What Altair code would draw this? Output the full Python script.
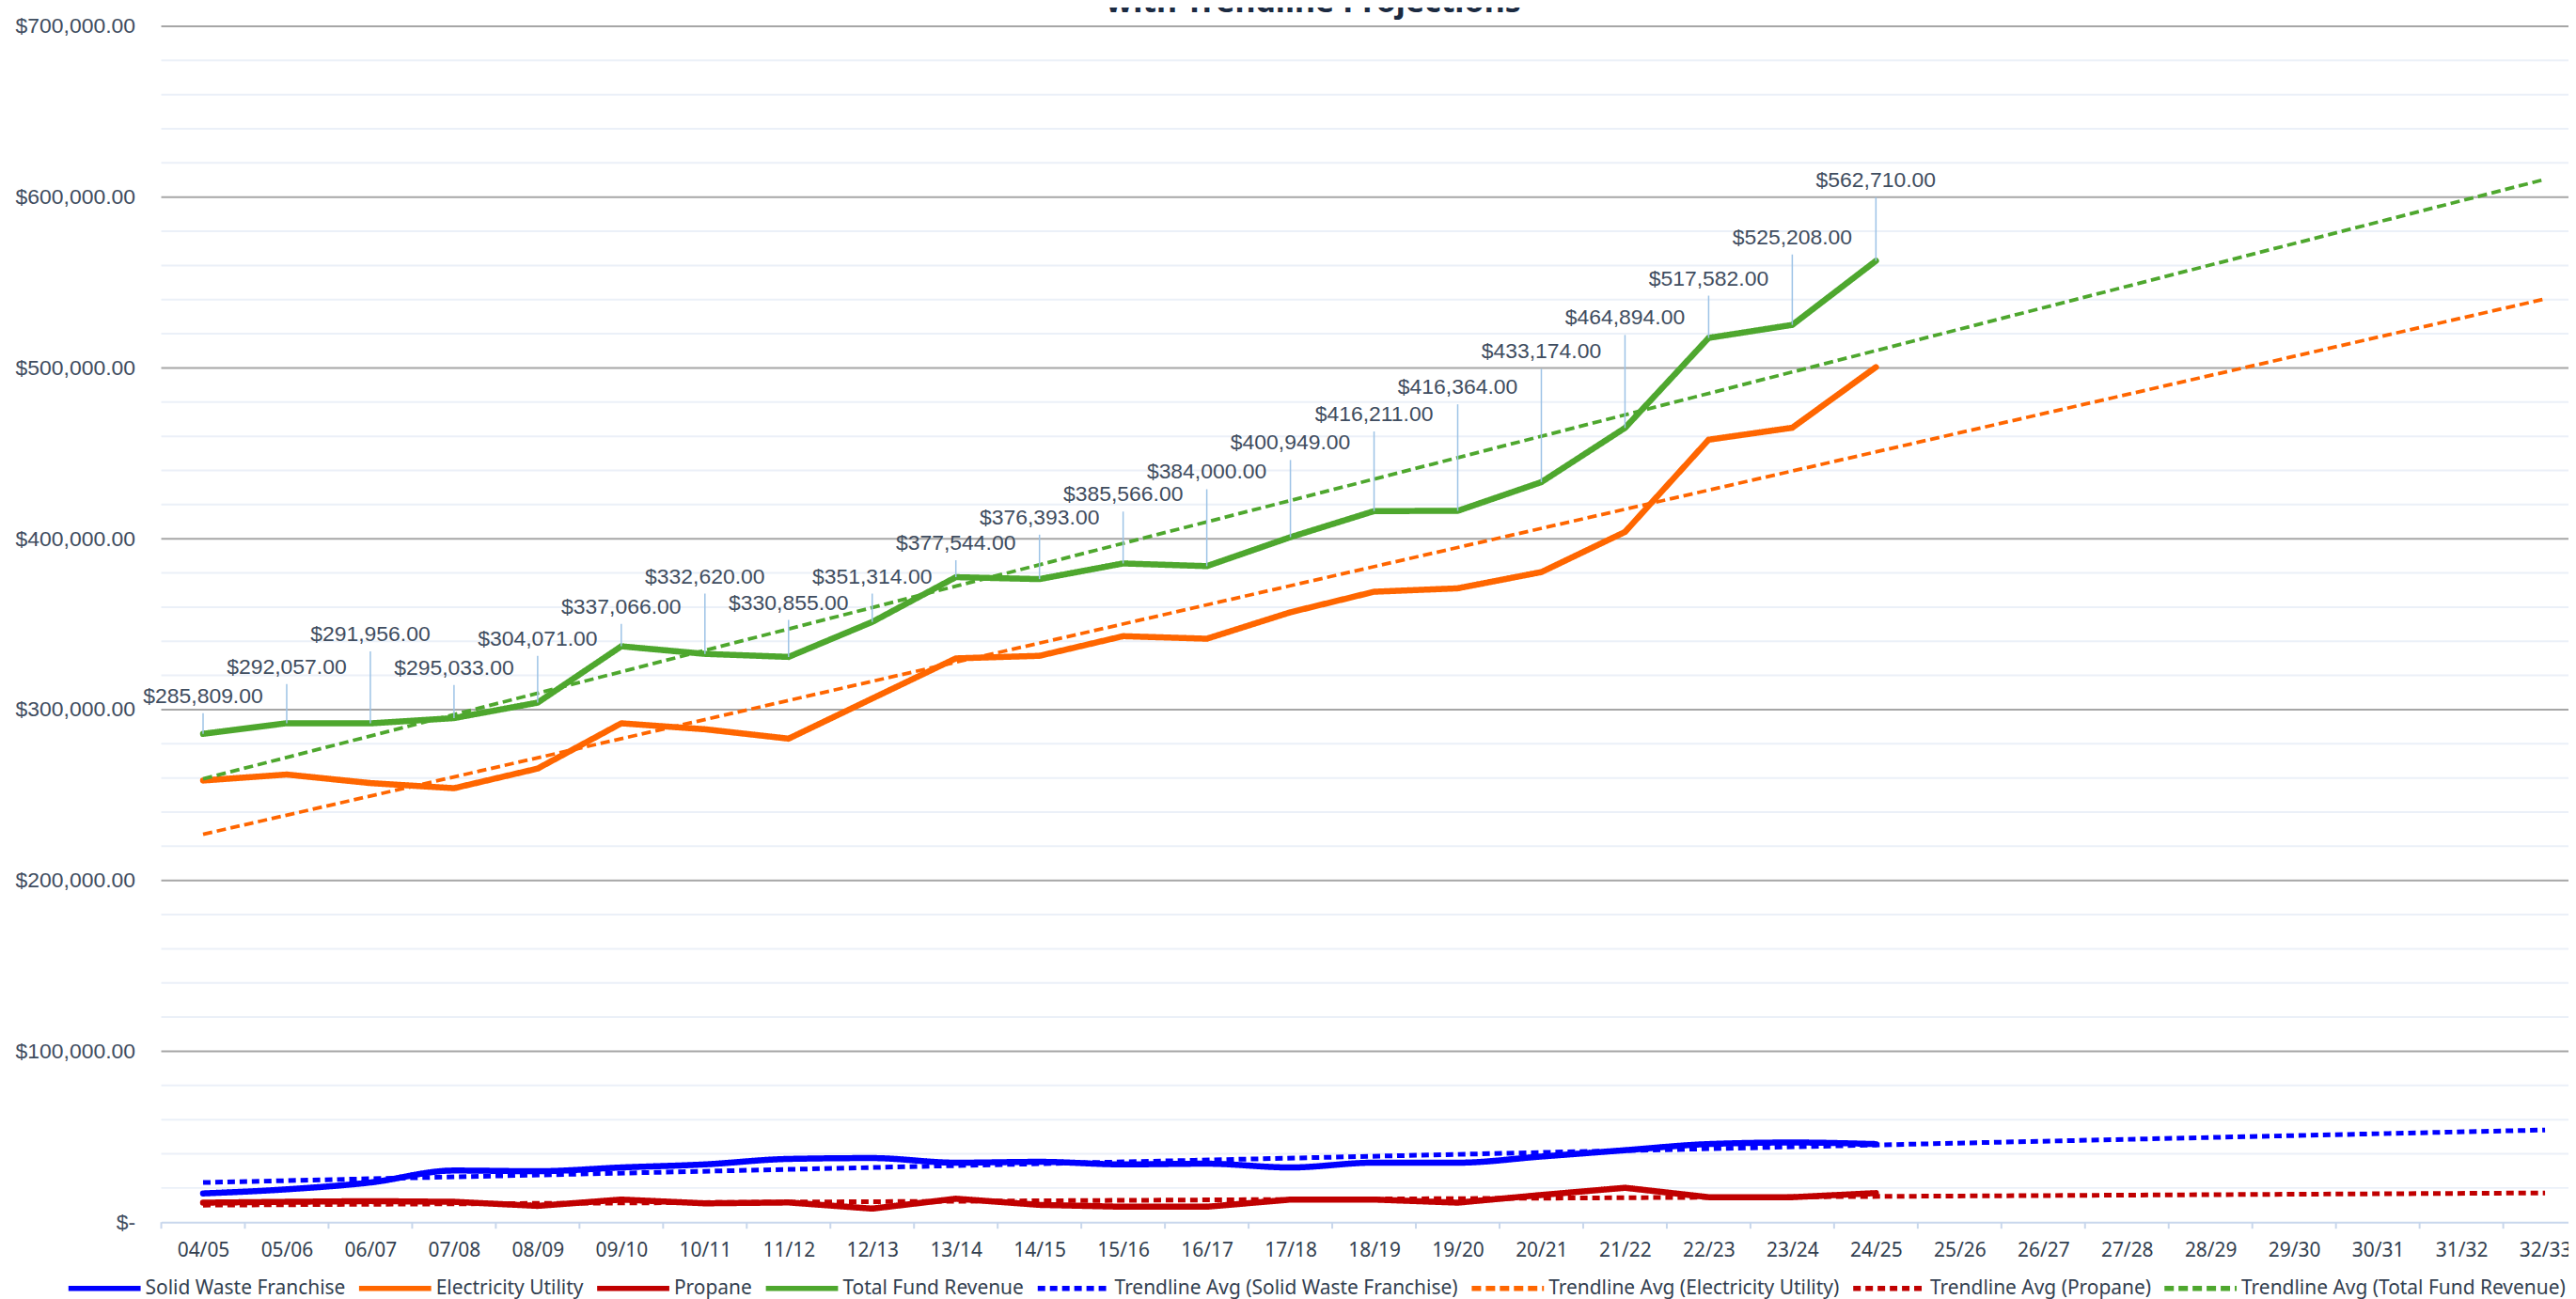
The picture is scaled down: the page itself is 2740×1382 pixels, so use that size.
import json
import altair as alt
import pandas as pd

# ---------------- data ----------------
categories = ["04/05", "05/06", "06/07", "07/08", "08/09", "09/10", "10/11", "11/12",
              "12/13", "13/14", "14/15", "15/16", "16/17", "17/18", "18/19", "19/20",
              "20/21", "21/22", "22/23", "23/24", "24/25", "25/26", "26/27", "27/28",
              "28/29", "29/30", "30/31", "31/32", "32/33"]

solid_waste = [16800, 19200, 23200, 30200, 29800, 32000, 33800, 37000, 37500, 34800, 35300,
               33800, 34200, 32000, 34800, 34800, 38400, 42100, 45700, 46600, 45700]
electricity = [258500, 262000, 257000, 254000, 265500, 292000, 288500, 283000, 306500, 330000,
               331500, 343000, 341500, 357000, 369000, 371000, 380500, 404000, 458000, 465000,
               500500]
propane = [11400, 11900, 12300, 11900, 9500, 13200, 11000, 11500, 7900, 13700, 10100,
           9000, 9000, 13200, 13200, 11400, 15900, 20100, 14600, 14600, 17000]
total = [285809, 292057, 291956, 295033, 304071, 337066, 332620, 330855, 351314, 377544,
         376393, 385566, 384000, 400949, 416211, 416364, 433174, 464894, 517582, 525208,
         562710]
# vertical level (in $) of the centre of each data label, as placed in the picture
label_level = [307800, 324900, 344000, 324300, 341300, 360000, 377800, 362400, 377800, 397300,
               412300, 425800, 438900, 456000, 472700, 488600, 509400, 529200, 552200, 576300,
               609800]

series_names = ["Solid Waste Franchise", "Electricity Utility", "Propane", "Total Fund Revenue"]
trend_names = [f"Trendline Avg ({s})" for s in series_names]
all_names = series_names + trend_names
title_text = "with Trendline Projections"

y_major = [0, 100000, 200000, 300000, 400000, 500000, 600000, 700000]

# ---------------- styles ----------------
base_colors = ["#0000FF", "#FF6600", "#C00000", "#4EA72E"]
colors = base_colors + base_colors
dashes = [[1, 0]] * 4 + [[8, 5], [10, 5], [8, 5], [10, 5]]

# ---------------- tables ----------------
rows = []
for i in range(len(total)):
    for name, vals in zip(series_names, [solid_waste, electricity, propane, total]):
        rows.append({"idx": i, "series": name, "value": vals[i]})
df = pd.DataFrame(rows)

lab_df = pd.DataFrame({"idx": list(range(len(total))), "total": total, "label_level": label_level})
minor_df = pd.DataFrame({"v": [v for v in range(20000, 700000, 20000) if v % 100000 != 0]})
major_df = pd.DataFrame({"v": y_major[1:]})
bound_df = pd.DataFrame({"b": [i - 0.5 for i in range(len(categories))]})
title_df = pd.DataFrame({"t": [title_text]})

W, H = 2568, 1276
x_scale = alt.Scale(domain=[-0.5, 28.28], nice=False, zero=False)
y_scale = alt.Scale(domain=[0, 700000], nice=False, zero=True)

legend = alt.Legend(
    title=None, orient="none", legendX=-102, legendY=1305, direction="horizontal", columns=8,
    symbolType="stroke", symbolSize=5929, symbolStrokeWidth=5.5,
    labelFont="Noto Sans", labelFontSize=21, labelColor="#333F50", labelOffset=2,
    columnPadding=3, labelLimit=0, padding=0, rowPadding=0,
)
color_enc = alt.Color("series:N", scale=alt.Scale(domain=all_names, range=colors), legend=legend)
dash_enc = alt.StrokeDash("series:N", scale=alt.Scale(domain=all_names, range=dashes), legend=legend)

x_axis = alt.Axis(
    values=list(range(len(categories))),
    labelExpr=f"{json.dumps(categories)}[datum.value]",
    title=None, grid=False, ticks=False, domain=True, domainColor="#C8D7EC",
    domainWidth=2, labelPadding=30, labelBaseline="middle", labelFont="Noto Sans",
    labelFontSize=21, labelColor="#333F50", labelFlush=False, labelOverlap=False,
)
y_axis = alt.Axis(
    values=y_major,
    labelExpr="datum.value == 0 ? '$-\u00a0\u2009' : format(datum.value, '$,.2f')",
    title=None, grid=False, ticks=False, domain=False, labelPadding=28,
    labelFont="Liberation Sans", labelFontSize=23, labelColor="#3F4D60",
)


def X(field):
    return alt.X(field, scale=x_scale, axis=x_axis)


def Y(field):
    return alt.Y(field, scale=y_scale, axis=y_axis)


minor = alt.Chart(minor_df).mark_rule(color="#EBF0F8", strokeWidth=2).encode(y=Y("v:Q"))
major = alt.Chart(major_df).mark_rule(color="#A6A6A6", strokeWidth=2).encode(y=Y("v:Q"))
ticks = alt.Chart(bound_df).mark_rule(color="#C8D7EC", strokeWidth=2).encode(
    x=X("b:Q"), y=alt.value(H), y2=alt.value(H + 7))

blue_line = alt.Chart(df[df.series == "Solid Waste Franchise"]).mark_line(
    interpolate="monotone", strokeWidth=6.5, strokeCap="round", strokeJoin="round").encode(
    x=X("idx:Q"), y=Y("value:Q"), color=color_enc, strokeDash=dash_enc)

other_lines = alt.Chart(df[df.series != "Solid Waste Franchise"]).mark_line(
    strokeWidth=6.5, strokeCap="round", strokeJoin="round").encode(
    x=X("idx:Q"), y=Y("value:Q"), color=color_enc, strokeDash=dash_enc)

trend = (
    alt.Chart(df)
    .transform_regression("idx", "value", groupby=["series"], extent=[0, 28], method="linear")
    .transform_calculate(sw="(datum.series == 'Solid Waste Franchise' || datum.series == 'Propane') ? 5 : 3.8")
    .transform_calculate(series="'Trendline Avg (' + datum.series + ')'")
    .mark_line(strokeCap="butt")
    .encode(
        x=X("idx:Q"), y=Y("value:Q"),
        color=color_enc, strokeDash=dash_enc,
        strokeWidth=alt.StrokeWidth("sw:Q", scale=None, legend=None))
)

leaders = alt.Chart(lab_df).mark_rule(color="#9DC3E6", strokeWidth=1.5, y2Offset=18).encode(
    x=X("idx:Q"), y=Y("total:Q"), y2="label_level:Q")

labels = alt.Chart(lab_df).mark_text(
    font="Liberation Sans", fontSize=23, color="#3F4D60", align="center", baseline="middle").encode(
    x=X("idx:Q"), y=Y("label_level:Q"),
    text=alt.Text("total:Q", format="$,.2f"))

title = alt.Chart(title_df).mark_text(
    font="Noto Sans", fontWeight="bold", fontSize=34, color="#1B2A41",
    align="center", baseline="alphabetic").encode(
    x=alt.value(1229), y=alt.value(-15), text="t:N")

chart = alt.layer(minor, major, ticks, blue_line, other_lines, trend, leaders, labels, title).properties(
    width=W, height=H,
    padding={"left": 164, "top": 18, "right": 0, "bottom": 80},
    autosize=alt.AutoSizeParams(type="none"),
    background="white",
).configure_view(stroke=None)

chart.save("out.html", embed_options={"renderer": "svg", "actions": False})
